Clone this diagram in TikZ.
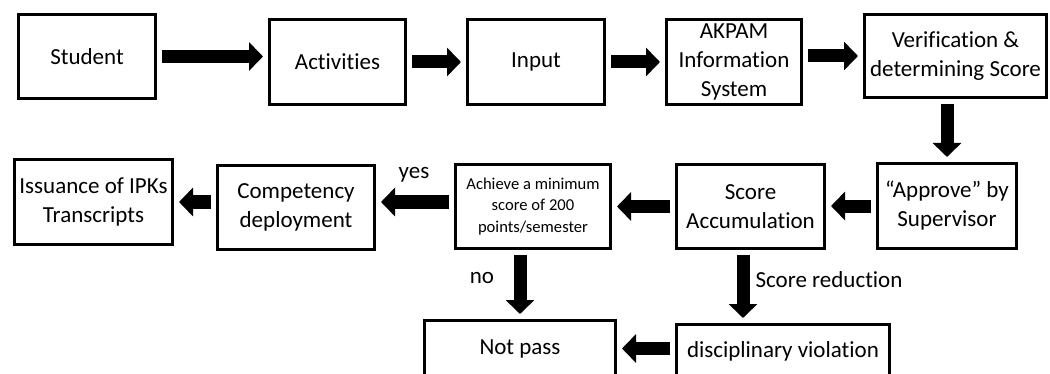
\documentclass[tikz,border=0pt]{standalone}
\usepackage{fontspec}
\setmainfont{Carlito}[Ligatures=NoCommon]
\usetikzlibrary{arrows.meta}

\begin{document}
\begin{tikzpicture}[x=0.5pt, y=-0.5pt,
    box/.style={rectangle, draw, line width=1.5pt, align=center, inner sep=2pt, font=\fontsize{11.5}{14.5}\selectfont},
    bigarrow/.style={line width=6.5pt, -{Triangle[width=14pt,length=7pt]}, shorten <=2.5pt, shorten >=2.5pt},
    lbl/.style={font=\fontsize{11.5}{14.5}\selectfont}]
    \useasboundingbox (0,0) rectangle (1050,374);
    \node[box, minimum width=68.5pt, minimum height=42pt] (student) at (87,56.5) {Student};
    \node[box, minimum width=68pt, minimum height=42.5pt] (activities) at (337.5,62) {Activities};
    \node[box, minimum width=68.5pt, minimum height=42.5pt] (input) at (536,62) {Input};
    \node[box, minimum width=67.5pt, minimum height=42.5pt] (akpam) at (734,62) {AKPAM\\Information\\System};
    \node[box, minimum width=91pt, minimum height=41.5pt] (verif) at (955.5,56) {Verification \&\\determining Score};
    \node[box, minimum width=69.5pt, minimum height=42.5pt] (superv) at (947,206) {“Approve” by\\Supervisor};
    \node[box, minimum width=74pt, minimum height=42pt] (scoreacc) at (750.5,206.5) {Score\\Accumulation};
    \node[box, minimum width=77.5pt, minimum height=42pt, font=\fontsize{8.3}{10.8}\selectfont] (achieve) at (533,206.5) {Achieve a minimum\\score of 200\\points/semester};
    \node[box, minimum width=78.5pt, minimum height=42pt] (competency) at (296,207.5) {Competency\\deployment};
    \node[box, minimum width=79pt, minimum height=42.5pt] (issuance) at (93.5,202) {Issuance of IPKs\\Transcripts};
    \node[box, minimum width=95.5pt, minimum height=28pt] (notpass) at (520,348.5) {Not pass};
    \node[box, minimum width=106.5pt, minimum height=27pt] (disc) at (783,351.5) {disciplinary violation};

    \draw[bigarrow] (student.east) -- (student.east -| activities.west);
    \draw[bigarrow] (activities.east) -- (activities.east -| input.west);
    \draw[bigarrow] (input.east) -- (input.east -| akpam.west);
    \draw[bigarrow] (akpam.east |- verif.west) -- (verif.west);
    \draw[bigarrow] (verif.south -| superv.north) -- (superv.north);
    \draw[bigarrow] (superv.west) -- (superv.west -| scoreacc.east);
    \draw[bigarrow] (scoreacc.west) -- (scoreacc.west -| achieve.east);
    \draw[bigarrow] (achieve.west |- issuance.east) -- (competency.east |- issuance.east);
    \draw[bigarrow] (competency.west |- issuance.east) -- (issuance.east);
    \draw[bigarrow] (achieve.south -| notpass.north) -- (notpass.north);
    \draw[bigarrow] ([xshift=-3.75pt]scoreacc.south) -- ([xshift=-3.75pt]scoreacc.south |- disc.north);
    \draw[bigarrow] (disc.west |- notpass.east) -- (notpass.east);

    \node[lbl] (yes) at (414,175) {yes};
    \node[lbl] (no) at (482,278) {no};
    \node[lbl] (reduction) at (829,280) {Score reduction};
\end{tikzpicture}
\end{document}
